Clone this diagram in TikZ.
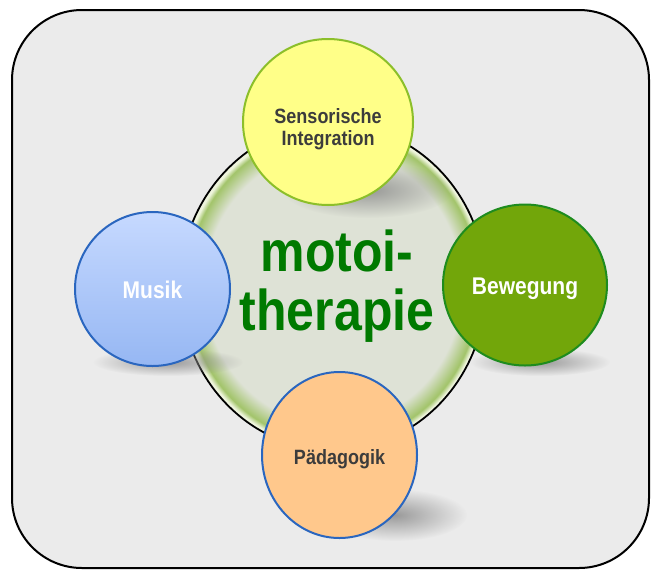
\documentclass[tikz,border=0pt]{standalone}
\usepackage{fontspec}
\setmainfont{Liberation Sans}
\usetikzlibrary{shapes.geometric,fadings}
\definecolor{bg}{HTML}{EBEBEB}
\definecolor{cin}{HTML}{DEE2D6}
\definecolor{crim}{HTML}{A2C46A}
\definecolor{crimlight}{HTML}{EEF4DC}
\definecolor{yelf}{HTML}{FFFF88}
\definecolor{yele}{HTML}{8CBF2A}
\definecolor{bluetop}{HTML}{C6D9FF}
\definecolor{bluebot}{HTML}{96B7F3}
\definecolor{bluee}{HTML}{2A66BF}
\definecolor{grnf}{HTML}{72A60A}
\definecolor{grne}{HTML}{1E8C1E}
\definecolor{orgf}{HTML}{FFC88C}
\definecolor{titlegreen}{HTML}{007A00}
\definecolor{darktext}{HTML}{3C3C3C}
\pgfdeclareradialshading{bigring}{\pgfpoint{0bp}{0bp}}{color(0bp)=(cin); color(21bp)=(cin); color(23.8bp)=(crim); color(24.6bp)=(crimlight); color(25bp)=(crimlight); color(50bp)=(crimlight)}
\tikzfading[name=softshadow, inner color=transparent!15, outer color=transparent!100]
\newcommand{\lowered}[2]{\raisebox{-#1}[\height][\depth]{\scalebox{1}[1.15]{#2}}}
\begin{document}
\begin{tikzpicture}[x=1pt,y=-1pt,
  sat/.style={ellipse, inner sep=0pt, line width=2pt, align=center},
  shad/.style={black!45, path fading=softshadow},
  smalltxt/.style={font=\fontsize{18}{19}\selectfont\bfseries}
]
\useasboundingbox (0,0) rectangle (652,573);
\fill[white] (0,0) rectangle (652,573);
% frame
\draw[line width=2pt, fill=bg, rounded corners=70pt] (12,10) rectangle (649,568);
% central disk
\node[ellipse, inner sep=0pt, minimum width=306pt, minimum height=326pt, shading=bigring, draw=black, line width=1.8pt] (core) at (333,287) {};
% shadows
\fill[shad] (368,190) ellipse [x radius=85pt, y radius=28pt];
\fill[shad] (168,362) ellipse [x radius=75pt, y radius=14pt];
\fill[shad] (540,362) ellipse [x radius=70pt, y radius=14pt];
\fill[shad] (395,515) ellipse [x radius=72pt, y radius=26pt];
% central title
\node[text=titlegreen, font=\fontsize{50}{50}\selectfont\bfseries] (title) at (337,289)
  {\scalebox{1}[1.15]{\begin{tabular}{@{}c@{}}motoi-\\therapie\end{tabular}}};
% satellites
\node[sat, minimum width=170pt, minimum height=166pt, fill=yelf, draw=yele, text=darktext, smalltxt] (sens) at (328,122)
  {\lowered{8pt}{\begin{tabular}{@{}c@{}}Sensorische\\Integration\end{tabular}}};
\node[sat, minimum width=155pt, minimum height=154pt, top color=bluetop, bottom color=bluebot, draw=bluee, text=white, font=\fontsize{21}{22}\selectfont\bfseries] (musik) at (152.5,289)
  {\lowered{1pt}{Musik}};
\node[sat, minimum width=164pt, minimum height=161pt, fill=grnf, draw=grne, text=white, font=\fontsize{21}{22}\selectfont\bfseries] (beweg) at (525,285)
  {\lowered{4pt}{Bewegung}};
\node[sat, minimum width=155pt, minimum height=166pt, fill=orgf, draw=bluee, text=darktext, font=\fontsize{18}{19}\selectfont\bfseries] (paed) at (339.5,455)
  {\lowered{4pt}{Pädagogik}};
\end{tikzpicture}
\end{document}
